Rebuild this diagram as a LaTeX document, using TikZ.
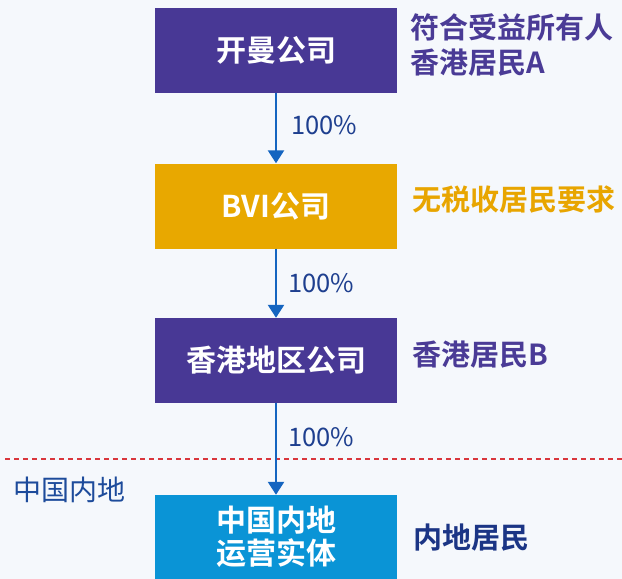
\documentclass[tikz,border=0pt]{standalone}
\usepackage{fontspec}
\setmainfont{Noto Sans CJK SC}
\newfontfamily\cjkb{Noto Sans CJK SC Bold}
\newfontfamily\cjkr{Noto Sans CJK SC}
\usetikzlibrary{arrows.meta}
\definecolor{bgc}{HTML}{F5F8FC}
\definecolor{purp}{HTML}{483895}
\definecolor{gold}{HTML}{E8A800}
\definecolor{skyb}{HTML}{0A94D6}
\definecolor{arrc}{HTML}{1565C0}
\definecolor{pctc}{HTML}{1E3F8F}
\definecolor{purt}{HTML}{4A3B96}
\definecolor{goldt}{HTML}{E8A500}
\definecolor{navy}{HTML}{1B3585}
\definecolor{leftb}{HTML}{1D4B9B}
\definecolor{redd}{HTML}{D9363C}
\begin{document}
\begin{tikzpicture}[x=1pt,y=-1pt,
  boxnode/.style={minimum width=242pt,minimum height=85pt,inner sep=0pt,text=white,align=center,
    font=\cjkb\fontsize{30}{33}\selectfont},
  lab/.style={anchor=west,inner sep=0pt,align=left,font=\cjkb\fontsize{29}{35}\selectfont},
  pct/.style={anchor=west,inner sep=0pt,text=pctc,font=\cjkr\fontsize{25.5}{30}\selectfont},
  arr/.style={draw=arrc,line width=2.5pt,-{Triangle[width=16pt,length=13pt]}}]
\fill[bgc] (0,0) rectangle (622,579);
\useasboundingbox (0,0) rectangle (622,579);
% dashed border line
\coordinate (dl) at (5,459);
\coordinate (dr) at (622,459);
\draw[redd,line width=1.3pt,dash pattern=on 5pt off 4pt] (dl) -- (dr);
% boxes
\node[boxnode,fill=purp] (b1) at (276,50.5) {开曼公司};
\node[boxnode,fill=gold] (b2) at (276,206) {BVI公司};
\node[boxnode,fill=purp] (b3) at (276,360.5) {香港地区公司};
\node[boxnode,fill=skyb,minimum height=84pt] (b4) at (276,537) {中国内地\\运营实体};
% arrows
\draw[arr] (b1) -- (b2);
\draw[arr] (b2) -- (b3);
\draw[arr] (b3) -- (b4);
% percentages
\node[pct] (p1) at (291,125) {100\%};
\node[pct] (p2) at (288,283) {100\%};
\node[pct] (p3) at (288,437) {100\%};
% right labels
\node[lab,text=purt] (l1) at (410,44.5) {符合受益所有人\\香港居民A};
\node[lab,text=goldt] (l2) at (412,200) {无税收居民要求};
\node[lab,text=purt] (l3) at (412,355) {香港居民B};
\node[lab,text=navy] (l4) at (413,538) {内地居民};
% left region label
\node[anchor=west,inner sep=0pt,text=leftb,font=\cjkr\fontsize{28}{32}\selectfont] (reg) at (13,490) {中国内地};
\end{tikzpicture}
\end{document}
